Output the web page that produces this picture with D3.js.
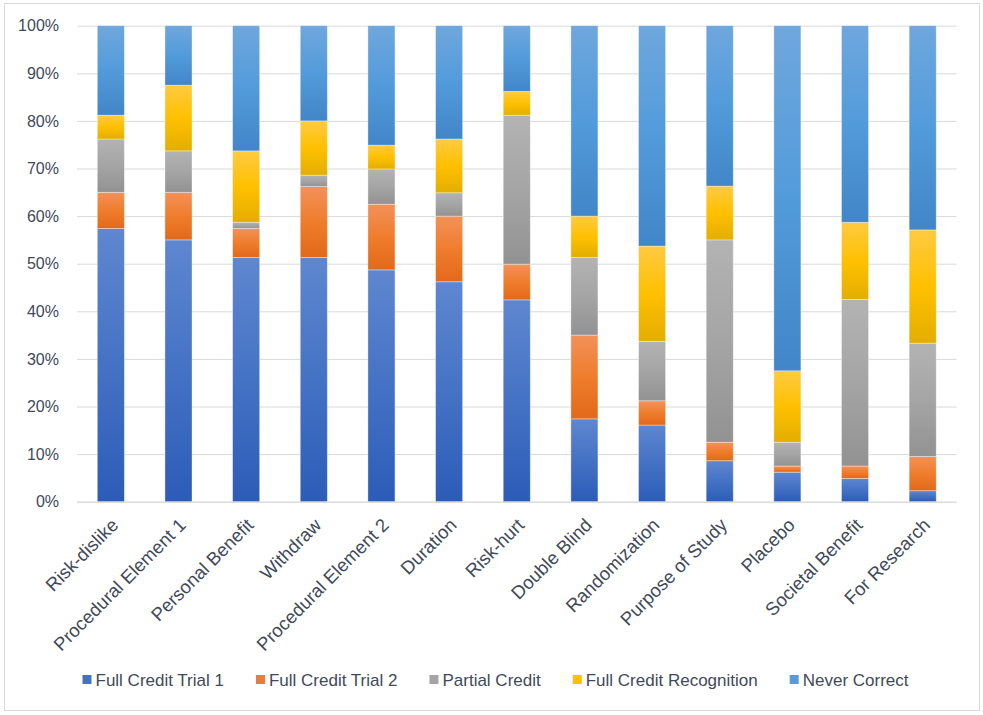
<!DOCTYPE html>
<html>
<head>
<meta charset="utf-8">
<script src="https://cdn.jsdelivr.net/npm/d3@7/dist/d3.min.js"></script>
<style>
  html, body { margin: 0; padding: 0; background: #ffffff; }
  svg { display: block; }
  text { font-family: "Liberation Sans", Arial, sans-serif; fill: #404a5a; }
</style>
</head>
<body>
<svg id="chart" width="983" height="715"></svg>
<script>
const categories = ["Risk-dislike", "Procedural Element 1", "Personal Benefit", "Withdraw",
  "Procedural Element 2", "Duration", "Risk-hurt", "Double Blind", "Randomization",
  "Purpose of Study", "Placebo", "Societal Benefit", "For Research"];
const seriesNames = ["Full Credit Trial 1", "Full Credit Trial 2", "Partial Credit",
  "Full Credit Recognition", "Never Correct"];
const fullCreditTrial1      = [57.4, 55.0, 51.3, 51.3, 48.7, 46.2, 42.4, 17.4, 16.1, 8.6, 6.2, 4.9, 2.3];
const fullCreditTrial2      = [7.6, 10.0, 6.1, 14.9, 13.8, 13.8, 7.5, 17.6, 5.1, 3.9, 1.3, 2.6, 7.2];
const partialCredit         = [11.2, 8.7, 1.3, 2.4, 7.4, 4.9, 31.3, 16.3, 12.5, 42.5, 5.0, 35.0, 23.8];
const fullCreditRecognition = [5.0, 13.8, 15.0, 11.4, 5.0, 11.3, 5.0, 8.7, 20.0, 11.3, 15.0, 16.2, 23.8];
const neverCorrect          = [18.8, 12.5, 26.3, 20.0, 25.1, 23.8, 13.8, 40.0, 46.3, 33.7, 72.5, 41.3, 42.9];
const yTicks = [0, 10, 20, 30, 40, 50, 60, 70, 80, 90, 100];

const seriesValues = [fullCreditTrial1, fullCreditTrial2, partialCredit, fullCreditRecognition, neverCorrect];
// gradient stops: top (light), middle (base), bottom (dark)
const seriesColors = [
  ["#5f87d0", "#4472c4", "#2c5cb8"],
  ["#f3915a", "#ef7d2c", "#e2691a"],
  ["#b3b3b3", "#a5a5a5", "#929292"],
  ["#ffca42", "#ffc000", "#e3ae00"],
  ["#6fa7dd", "#529bdb", "#4186c8"]
];
const legendColors = ["#4472c4", "#ed7d31", "#a5a5a5", "#ffc000", "#5b9bd5"];

const rows = categories.map((c, i) => {
  const r = { category: c };
  seriesNames.forEach((s, j) => r[s] = seriesValues[j][i]);
  return r;
});

const svg = d3.select("#chart");
const plot = { left: 77, right: 956.5, top: 25.7, bottom: 501.7 };

// border
svg.append("rect").attr("x", 4.5).attr("y", 3.5).attr("width", 975).attr("height", 707)
  .attr("fill", "#ffffff").attr("stroke", "#d9d9d9").attr("stroke-width", 1);

const defs = svg.append("defs");
seriesColors.forEach((c, j) => {
  const g = defs.append("linearGradient").attr("id", "grad" + j)
    .attr("x1", 0).attr("y1", 0).attr("x2", 0).attr("y2", 1);
  g.append("stop").attr("offset", "0%").attr("stop-color", c[0]);
  g.append("stop").attr("offset", "50%").attr("stop-color", c[1]);
  g.append("stop").attr("offset", "100%").attr("stop-color", c[2]);
});

const x = d3.scaleBand().domain(categories).range([plot.left, plot.right])
  .paddingInner(0.6).paddingOuter(0.3);
const y = d3.scaleLinear().domain([0, 100]).range([plot.bottom, plot.top]);

// y axis with gridlines
const yAxis = svg.append("g").attr("transform", `translate(${plot.left},0)`)
  .call(d3.axisLeft(y).tickValues(yTicks).tickFormat(d => d + "%")
    .tickSize(-(plot.right - plot.left)).tickPadding(18));
yAxis.select(".domain").remove();
yAxis.selectAll("line").attr("stroke", "#d9d9d9").attr("stroke-width", 1);
yAxis.selectAll("text").style("font-size", "16px").attr("fill", "#404a5a")
  .style("font-family", '"Liberation Sans", Arial, sans-serif');

const stack = d3.stack().keys(seriesNames);
const stacked = stack(rows);

svg.append("g").selectAll("g").data(stacked).join("g")
  .attr("fill", (d, j) => `url(#grad${j})`)
  .selectAll("rect").data(d => d).join("rect")
  .attr("x", d => x(d.data.category))
  .attr("width", x.bandwidth())
  .attr("y", d => y(d[1]))
  .attr("height", d => Math.max(0, y(d[0]) - y(d[1])))
  .attr("stroke", "#ffffff").attr("stroke-opacity", 0.45).attr("stroke-width", 0.8);

// x axis
const xAxis = svg.append("g").attr("transform", `translate(0,${plot.bottom})`)
  .call(d3.axisBottom(x).tickSize(0).tickPadding(0));
xAxis.select(".domain").attr("stroke", "#d9d9d9").attr("stroke-width", 1)
  .attr("d", `M${plot.left},0.5H${plot.right}`);
xAxis.selectAll("text")
  .style("font-size", "18.5px").attr("fill", "#404a5a")
  .style("font-family", '"Liberation Sans", Arial, sans-serif')
  .attr("text-anchor", "end")
  .attr("dy", "0.35em")
  .attr("transform", "translate(4,20) rotate(-45)");

// legend
const legend = svg.append("g").attr("class", "legend");
const items = legend.selectAll("g").data(seriesNames).join("g");
items.append("rect").attr("width", 9).attr("height", 9).attr("y", -5)
  .attr("fill", (d, j) => legendColors[j]);
items.append("text").attr("x", 13).attr("dy", "0.35em")
  .style("font-size", "17px").text(d => d);
const gap = 32;
const widths = [];
items.each(function () { widths.push(13 + d3.select(this).select("text").node().getComputedTextLength()); });
const total = d3.sum(widths) + gap * (widths.length - 1);
let cx = 495.5 - total / 2;
items.attr("transform", (d, j) => {
  const t = `translate(${cx},680)`;
  cx += widths[j] + gap;
  return t;
});
</script>
</body>
</html>
